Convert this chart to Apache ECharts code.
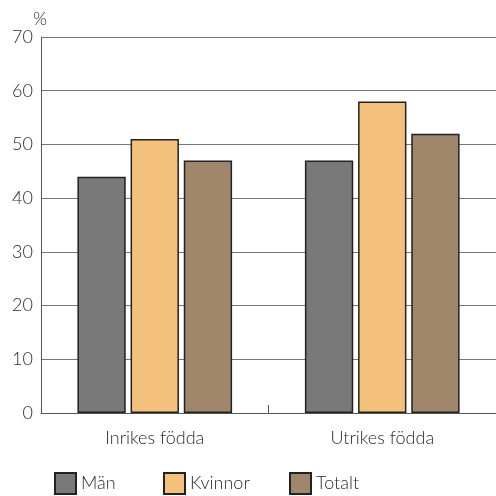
<!DOCTYPE html>
<html><head><meta charset="utf-8">
<script src="https://cdn.jsdelivr.net/npm/echarts@6/dist/echarts.min.js"></script>
<style>html,body{margin:0;padding:0;background:#fff}#c{width:496px;height:496px}</style>
</head><body><div id="c"></div>
<script>
const categories = ["Inrikes födda", "Utrikes födda"];
const man = [44, 47];
const kvinnor = [51, 58];
const totalt = [47, 52];
const seriesNames = ["Män", "Kvinnor", "Totalt"];
const colors = ["#797979", "#f3c17b", "#a0866a"];
const legendLeft = [54, 163, 289];
const font = "Lato, 'DejaVu Sans', sans-serif";
const chart = echarts.init(document.getElementById('c'), null, {renderer: 'canvas'});
const mk = (name, data, color) => ({
  name, type: 'bar', data, barGap: '10%', barCategoryGap: '32%',
  itemStyle: {color, borderColor: '#222', borderWidth: 1.5},
  emphasis: {disabled: true}
});
chart.setOption({
  animation: false,
  textStyle: {fontFamily: font},
  grid: {left: 41, right: 0, top: 37, bottom: 83},
  legend: seriesNames.map((n, i) => ({
    left: legendLeft[i], bottom: 1, itemWidth: 21, itemHeight: 21, itemGap: 0,
    icon: 'rect', padding: 0,
    textStyle: {fontSize: 18, color: '#2a2a2a', fontFamily: font, fontWeight: 300},
    data: [n]
  })),
  xAxis: {
    type: 'category', data: categories,
    axisLine: {lineStyle: {color: '#555', width: 1}},
    axisTick: {show: true, lineStyle: {color: '#555'}, length: 8, inside: true},
    axisLabel: {fontSize: 18, color: '#2a2a2a', margin: 16, fontFamily: font, fontWeight: 300}
  },
  yAxis: {
    type: 'value', min: 0, max: 70, interval: 10,
    name: '%', nameLocation: 'end', nameGap: 8,
    nameTextStyle: {fontSize: 18, color: '#2a2a2a', align: 'right', padding: [0, -6, 0, 0], fontFamily: font, fontWeight: 300},
    axisLine: {show: true, lineStyle: {color: '#555', width: 1}},
    axisTick: {show: false},
    axisLabel: {fontSize: 18, color: '#2a2a2a', margin: 8, fontFamily: font, fontWeight: 300},
    splitLine: {lineStyle: {color: '#777', width: 1}}
  },
  series: [mk(seriesNames[0], man, colors[0]), mk(seriesNames[1], kvinnor, colors[1]), mk(seriesNames[2], totalt, colors[2])]
});
</script></body></html>
